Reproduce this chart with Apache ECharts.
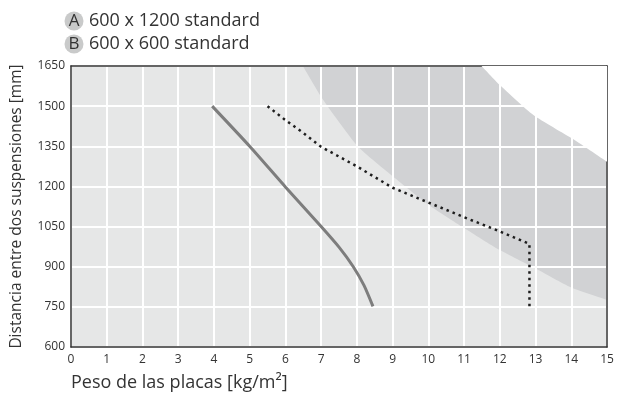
<!DOCTYPE html>
<html>
<head>
<meta charset="utf-8">
<script src="https://cdn.jsdelivr.net/npm/echarts@6.0.0/dist/echarts.min.js"></script>
<style>html,body{margin:0;padding:0;background:#fff;}#c{width:617px;height:398px;}</style>
</head>
<body>
<div id="c"></div>
<script>
// Series A: 600 x 1200 standard (solid)
const seriesA = [[3.95,1500],[5,1350],[6,1198],[7,1050],[7.5,973],[7.9,900],[8.2,830],[8.45,752]];
// Series B: 600 x 600 standard (dotted)
const seriesB = [[5.5,1500],[6,1448],[6.5,1400],[7,1348],[8,1275],[9,1195],[10,1140],[11,1085],[12,1032],[12.6,998],[12.83,985],[12.83,750]];
// Dark shaded zone lower boundary
const darkZone = [[6.49,1650],[7.06,1523],[8.04,1348],[9.02,1236],[10,1132],[11,1045],[12,962],[13,893],[14,822],[15,776]];
// White zone lower boundary
const whiteZone = [[11.49,1650],[12,1579],[12.94,1467],[14.06,1376],[15,1292]];
const legendItems = [['A','600 x 1200 standard'],['B','600 x 600 standard']];
const xName = 'Peso de las placas [kg/m²]';
const yName = 'Distancia entre dos suspensiones [mm]';

const FONT = 'Open Sans';
const chart = echarts.init(document.getElementById('c'), null, {renderer:'canvas'});
const legendGraphics = [];
legendItems.forEach((it, i) => {
  const cy = 21 + i * 23;
  legendGraphics.push({type:'circle', shape:{cx:74, cy:cy, r:9.5}, style:{fill:'#c9caca'}});
  legendGraphics.push({type:'text', x:74, y:cy, style:{text:it[0], fill:'#333', font:'17px "'+FONT+'"', textAlign:'center', textVerticalAlign:'middle'}});
  legendGraphics.push({type:'text', x:89, y:cy, style:{text:it[1], fill:'#333', font:'18px "'+FONT+'"', textAlign:'left', textVerticalAlign:'middle'}});
});

chart.setOption({
  animation:false,
  textStyle:{fontFamily:FONT},
  grid:{left:71, right:10, top:66, bottom:51, show:true, backgroundColor:'#e6e7e7', borderWidth:0, z:0},
  xAxis:[{
    type:'value', min:0, max:15, interval:1, position:'bottom', z:3,
    axisLine:{show:true, onZero:false, lineStyle:{color:'#333', width:1.5}},
    axisTick:{show:false},
    axisLabel:{color:'#333', fontSize:12, margin:7},
    splitLine:{show:true, lineStyle:{color:'#fff', width:2}},
    name:xName, nameLocation:'start', nameGap:0,
    nameTextStyle:{color:'#333', fontSize:18, align:'left', verticalAlign:'top', padding:[27,0,0,0]}
  },{
    type:'value', min:0, max:15, interval:1, position:'top', z:3,
    axisLine:{show:true, onZero:false, lineStyle:{color:'#333', width:1.5}},
    axisTick:{show:false}, axisLabel:{show:false}, splitLine:{show:false}
  }],
  yAxis:[{
    type:'value', min:600, max:1650, interval:150, position:'left', z:3,
    axisLine:{show:true, onZero:false, lineStyle:{color:'#333', width:1.5}},
    axisTick:{show:false},
    axisLabel:{color:'#333', fontSize:12, margin:6, formatter:(v)=>String(v)},
    splitLine:{show:true, lineStyle:{color:'#fff', width:2}},
    name:yName, nameLocation:'middle', nameGap:46,
    nameTextStyle:{color:'#333', fontSize:15.5}
  },{
    type:'value', min:600, max:1650, interval:150, position:'right', z:3,
    axisLine:{show:true, onZero:false, lineStyle:{color:'#333', width:1.5}},
    axisTick:{show:false}, axisLabel:{show:false}, splitLine:{show:false}
  }],
  series:[
    {type:'line', data:darkZone, showSymbol:false, smooth:0.2, z:1,
     lineStyle:{width:0}, areaStyle:{origin:'end', color:'#d1d2d4', opacity:1}},
    {type:'line', data:whiteZone, showSymbol:false, smooth:0.2, z:4,
     lineStyle:{width:0}, areaStyle:{origin:'end', color:'#ffffff', opacity:1}},
    {name:'A', type:'line', data:seriesA, showSymbol:false, smooth:0.2, z:5,
     lineStyle:{color:'#7d7d7d', width:3}},
    {name:'B', type:'line', data:seriesB, showSymbol:false, z:5,
     lineStyle:{color:'#1e1e1e', width:2.5, type:[2.5,4]}}
  ],
  graphic:legendGraphics
});
</script>
</body>
</html>
